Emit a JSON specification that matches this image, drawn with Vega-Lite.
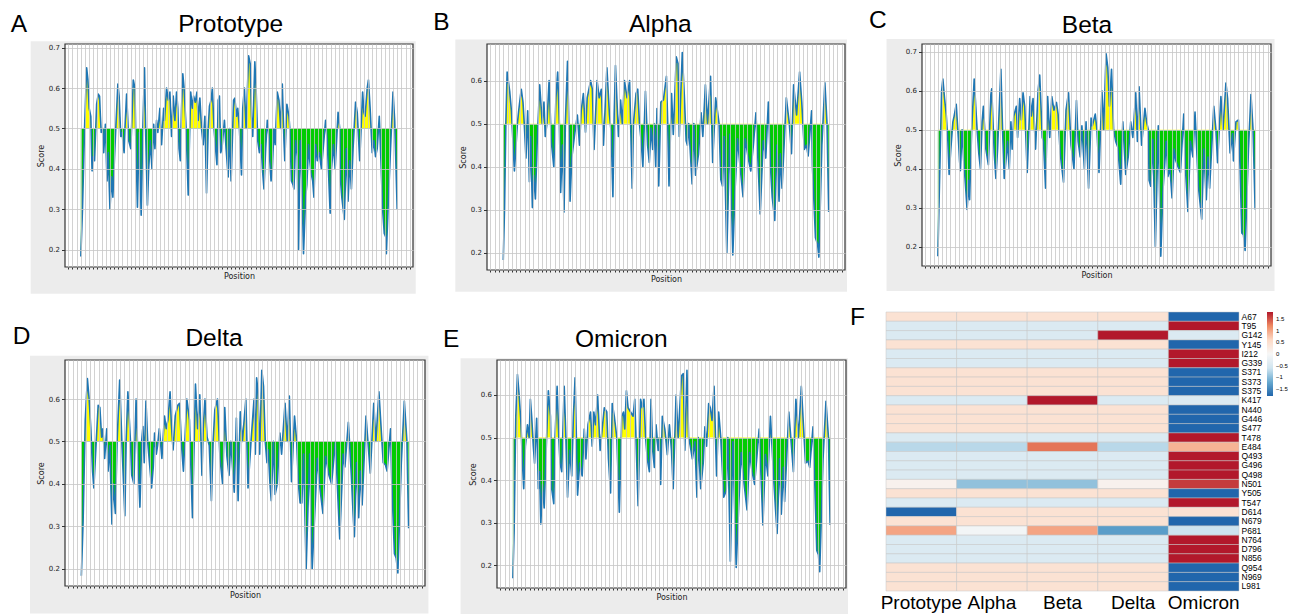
{
  "$schema": "https://vega.github.io/schema/vega-lite/v6.json",
  "background": "white",
  "padding": {"left": 10, "top": 8, "right": 0, "bottom": 0},
  "config": {
    "view": {"stroke": null},
    "font": "Liberation Sans",
    "title": {"font": "Liberation Sans", "fontSize": 24.5, "fontWeight": "normal", "color": "#000000", "anchor": "start", "frame": "group"},
    "text": {"font": "Liberation Sans", "fontSize": 24.5, "color": "#000000", "baseline": "top"},
    "axis": {"zindex": 1, "labelFont": "DejaVu Sans", "titleFont": "DejaVu Sans", "titleFontWeight": "normal", "labelColor": "#222222", "titleColor": "#222222", "tickColor": "#333333", "gridColor": "#c6c6c6", "gridWidth": 0.8}
  },
  "datasets": {
    "prototype": [
      {"p":0,"s":0.183},{"p":4,"s":0.30},{"p":9,"s":0.50},{"p":14,"s":0.65},{"p":17,"s":0.62},{"p":20,"s":0.55},{"p":24,"s":0.53},{"p":27,"s":0.395},{"p":30,"s":0.43},{"p":33,"s":0.42},{"p":38,"s":0.56},{"p":42,"s":0.585},{"p":45,"s":0.58},{"p":47,"s":0.53},{"p":49,"s":0.49},{"p":53,"s":0.50},{"p":55,"s":0.44},{"p":59,"s":0.51},{"p":63,"s":0.37},{"p":66,"s":0.44},{"p":70,"s":0.30},{"p":74,"s":0.38},{"p":77,"s":0.33},{"p":81,"s":0.43},{"p":84,"s":0.50},{"p":89,"s":0.61},{"p":92,"s":0.58},{"p":96,"s":0.48},{"p":99,"s":0.49},{"p":104,"s":0.44},{"p":106,"s":0.50},{"p":110,"s":0.585},{"p":115,"s":0.47},{"p":120,"s":0.45},{"p":123,"s":0.53},{"p":126,"s":0.62},{"p":130,"s":0.60},{"p":132,"s":0.48},{"p":136,"s":0.305},{"p":140,"s":0.49},{"p":145,"s":0.285},{"p":149,"s":0.50},{"p":153,"s":0.65},{"p":156,"s":0.48},{"p":160,"s":0.31},{"p":163,"s":0.40},{"p":167,"s":0.47},{"p":171,"s":0.40},{"p":175,"s":0.51},{"p":178,"s":0.45},{"p":182,"s":0.52},{"p":185,"s":0.49},{"p":190,"s":0.55},{"p":194,"s":0.46},{"p":199,"s":0.55},{"p":201,"s":0.52},{"p":206,"s":0.60},{"p":210,"s":0.57},{"p":214,"s":0.59},{"p":218,"s":0.48},{"p":222,"s":0.58},{"p":226,"s":0.52},{"p":230,"s":0.59},{"p":233,"s":0.55},{"p":236,"s":0.45},{"p":239,"s":0.42},{"p":242,"s":0.55},{"p":245,"s":0.635},{"p":248,"s":0.60},{"p":253,"s":0.50},{"p":258,"s":0.335},{"p":261,"s":0.47},{"p":264,"s":0.59},{"p":268,"s":0.55},{"p":271,"s":0.58},{"p":275,"s":0.565},{"p":279,"s":0.59},{"p":282,"s":0.52},{"p":286,"s":0.575},{"p":290,"s":0.50},{"p":294,"s":0.46},{"p":298,"s":0.53},{"p":302,"s":0.34},{"p":306,"s":0.50},{"p":309,"s":0.555},{"p":313,"s":0.57},{"p":316,"s":0.60},{"p":320,"s":0.50},{"p":323,"s":0.46},{"p":327,"s":0.41},{"p":330,"s":0.57},{"p":333,"s":0.58},{"p":336,"s":0.44},{"p":339,"s":0.45},{"p":345,"s":0.52},{"p":349,"s":0.45},{"p":354,"s":0.38},{"p":357,"s":0.50},{"p":361,"s":0.37},{"p":367,"s":0.57},{"p":370,"s":0.575},{"p":374,"s":0.53},{"p":377,"s":0.55},{"p":381,"s":0.50},{"p":386,"s":0.385},{"p":389,"s":0.55},{"p":393,"s":0.60},{"p":397,"s":0.50},{"p":403,"s":0.68},{"p":407,"s":0.66},{"p":410,"s":0.53},{"p":413,"s":0.48},{"p":418,"s":0.665},{"p":421,"s":0.60},{"p":425,"s":0.47},{"p":429,"s":0.44},{"p":433,"s":0.46},{"p":437,"s":0.39},{"p":440,"s":0.35},{"p":444,"s":0.45},{"p":448,"s":0.52},{"p":452,"s":0.48},{"p":454,"s":0.42},{"p":457,"s":0.37},{"p":460,"s":0.40},{"p":464,"s":0.50},{"p":467,"s":0.46},{"p":472,"s":0.59},{"p":476,"s":0.57},{"p":480,"s":0.50},{"p":484,"s":0.61},{"p":488,"s":0.47},{"p":490,"s":0.42},{"p":495,"s":0.56},{"p":500,"s":0.53},{"p":502,"s":0.50},{"p":506,"s":0.37},{"p":510,"s":0.36},{"p":512,"s":0.35},{"p":516,"s":0.47},{"p":520,"s":0.43},{"p":523,"s":0.20},{"p":527,"s":0.47},{"p":531,"s":0.37},{"p":535,"s":0.19},{"p":540,"s":0.33},{"p":543,"s":0.36},{"p":547,"s":0.46},{"p":550,"s":0.42},{"p":553,"s":0.39},{"p":557,"s":0.37},{"p":560,"s":0.33},{"p":564,"s":0.46},{"p":568,"s":0.42},{"p":573,"s":0.44},{"p":578,"s":0.40},{"p":583,"s":0.46},{"p":588,"s":0.52},{"p":592,"s":0.47},{"p":599,"s":0.29},{"p":602,"s":0.40},{"p":607,"s":0.46},{"p":611,"s":0.40},{"p":618,"s":0.54},{"p":622,"s":0.50},{"p":624,"s":0.37},{"p":627,"s":0.33},{"p":633,"s":0.275},{"p":638,"s":0.45},{"p":642,"s":0.32},{"p":646,"s":0.42},{"p":650,"s":0.35},{"p":654,"s":0.45},{"p":660,"s":0.565},{"p":664,"s":0.54},{"p":670,"s":0.42},{"p":677,"s":0.59},{"p":680,"s":0.54},{"p":683,"s":0.53},{"p":688,"s":0.60},{"p":691,"s":0.62},{"p":695,"s":0.55},{"p":700,"s":0.44},{"p":704,"s":0.47},{"p":708,"s":0.43},{"p":712,"s":0.45},{"p":717,"s":0.53},{"p":721,"s":0.42},{"p":725,"s":0.30},{"p":729,"s":0.24},{"p":733,"s":0.23},{"p":734,"s":0.19},{"p":738,"s":0.30},{"p":744,"s":0.45},{"p":750,"s":0.59},{"p":754,"s":0.52},{"p":760,"s":0.30}
    ],
    "alpha": [
      {"p":0,"s":0.183},{"p":3,"s":0.305},{"p":6,"s":0.50},{"p":9,"s":0.62},{"p":15,"s":0.575},{"p":19,"s":0.53},{"p":26,"s":0.39},{"p":33,"s":0.50},{"p":36,"s":0.53},{"p":42,"s":0.58},{"p":46,"s":0.55},{"p":49,"s":0.50},{"p":53,"s":0.42},{"p":57,"s":0.53},{"p":61,"s":0.365},{"p":64,"s":0.47},{"p":68,"s":0.305},{"p":71,"s":0.38},{"p":75,"s":0.325},{"p":79,"s":0.45},{"p":85,"s":0.59},{"p":91,"s":0.50},{"p":95,"s":0.55},{"p":98,"s":0.47},{"p":102,"s":0.50},{"p":107,"s":0.60},{"p":112,"s":0.46},{"p":118,"s":0.40},{"p":123,"s":0.56},{"p":127,"s":0.62},{"p":131,"s":0.50},{"p":134,"s":0.34},{"p":138,"s":0.45},{"p":142,"s":0.295},{"p":145,"s":0.50},{"p":150,"s":0.645},{"p":154,"s":0.46},{"p":156,"s":0.32},{"p":160,"s":0.42},{"p":166,"s":0.47},{"p":173,"s":0.52},{"p":178,"s":0.45},{"p":182,"s":0.53},{"p":187,"s":0.57},{"p":192,"s":0.48},{"p":196,"s":0.56},{"p":204,"s":0.60},{"p":208,"s":0.58},{"p":212,"s":0.44},{"p":219,"s":0.60},{"p":224,"s":0.56},{"p":229,"s":0.58},{"p":234,"s":0.45},{"p":242,"s":0.63},{"p":248,"s":0.52},{"p":252,"s":0.48},{"p":256,"s":0.33},{"p":259,"s":0.52},{"p":262,"s":0.635},{"p":269,"s":0.47},{"p":274,"s":0.555},{"p":278,"s":0.50},{"p":283,"s":0.60},{"p":289,"s":0.56},{"p":295,"s":0.60},{"p":301,"s":0.35},{"p":304,"s":0.50},{"p":310,"s":0.57},{"p":314,"s":0.58},{"p":318,"s":0.50},{"p":322,"s":0.46},{"p":326,"s":0.40},{"p":332,"s":0.575},{"p":337,"s":0.45},{"p":341,"s":0.41},{"p":345,"s":0.49},{"p":349,"s":0.44},{"p":352,"s":0.50},{"p":356,"s":0.40},{"p":359,"s":0.535},{"p":363,"s":0.355},{"p":368,"s":0.55},{"p":374,"s":0.555},{"p":381,"s":0.61},{"p":384,"s":0.50},{"p":387,"s":0.355},{"p":393,"s":0.57},{"p":397,"s":0.475},{"p":404,"s":0.655},{"p":408,"s":0.64},{"p":411,"s":0.47},{"p":418,"s":0.665},{"p":423,"s":0.56},{"p":427,"s":0.46},{"p":430,"s":0.45},{"p":433,"s":0.50},{"p":441,"s":0.36},{"p":445,"s":0.50},{"p":449,"s":0.38},{"p":456,"s":0.43},{"p":462,"s":0.525},{"p":466,"s":0.47},{"p":472,"s":0.59},{"p":477,"s":0.50},{"p":484,"s":0.61},{"p":489,"s":0.41},{"p":496,"s":0.56},{"p":500,"s":0.53},{"p":504,"s":0.50},{"p":508,"s":0.37},{"p":512,"s":0.355},{"p":516,"s":0.47},{"p":522,"s":0.20},{"p":529,"s":0.475},{"p":536,"s":0.195},{"p":541,"s":0.34},{"p":547,"s":0.465},{"p":553,"s":0.40},{"p":560,"s":0.33},{"p":565,"s":0.465},{"p":572,"s":0.42},{"p":578,"s":0.39},{"p":584,"s":0.45},{"p":590,"s":0.525},{"p":600,"s":0.29},{"p":607,"s":0.46},{"p":613,"s":0.42},{"p":619,"s":0.55},{"p":624,"s":0.40},{"p":628,"s":0.33},{"p":634,"s":0.275},{"p":639,"s":0.45},{"p":644,"s":0.32},{"p":647,"s":0.43},{"p":651,"s":0.35},{"p":661,"s":0.56},{"p":668,"s":0.50},{"p":673,"s":0.43},{"p":678,"s":0.59},{"p":685,"s":0.52},{"p":692,"s":0.62},{"p":697,"s":0.55},{"p":703,"s":0.44},{"p":708,"s":0.45},{"p":712,"s":0.425},{"p":720,"s":0.53},{"p":722,"s":0.40},{"p":729,"s":0.235},{"p":734,"s":0.22},{"p":737,"s":0.19},{"p":744,"s":0.45},{"p":751,"s":0.595},{"p":756,"s":0.50},{"p":760,"s":0.295}
    ],
    "beta": [
      {"p":0,"s":0.175},{"p":3,"s":0.32},{"p":9,"s":0.60},{"p":12,"s":0.63},{"p":16,"s":0.58},{"p":20,"s":0.54},{"p":24,"s":0.47},{"p":27,"s":0.385},{"p":31,"s":0.45},{"p":36,"s":0.52},{"p":39,"s":0.535},{"p":44,"s":0.565},{"p":49,"s":0.48},{"p":52,"s":0.42},{"p":54,"s":0.395},{"p":58,"s":0.50},{"p":62,"s":0.42},{"p":66,"s":0.36},{"p":70,"s":0.295},{"p":74,"s":0.37},{"p":76,"s":0.32},{"p":81,"s":0.50},{"p":87,"s":0.63},{"p":94,"s":0.50},{"p":98,"s":0.44},{"p":102,"s":0.40},{"p":106,"s":0.52},{"p":109,"s":0.56},{"p":115,"s":0.45},{"p":121,"s":0.41},{"p":127,"s":0.59},{"p":129,"s":0.605},{"p":135,"s":0.44},{"p":139,"s":0.375},{"p":143,"s":0.45},{"p":151,"s":0.655},{"p":155,"s":0.50},{"p":159,"s":0.375},{"p":163,"s":0.42},{"p":167,"s":0.47},{"p":171,"s":0.40},{"p":175,"s":0.52},{"p":178,"s":0.45},{"p":182,"s":0.535},{"p":188,"s":0.56},{"p":191,"s":0.48},{"p":196,"s":0.58},{"p":200,"s":0.525},{"p":204,"s":0.595},{"p":208,"s":0.56},{"p":214,"s":0.39},{"p":221,"s":0.585},{"p":224,"s":0.535},{"p":228,"s":0.58},{"p":234,"s":0.45},{"p":240,"s":0.60},{"p":244,"s":0.64},{"p":250,"s":0.48},{"p":253,"s":0.47},{"p":258,"s":0.35},{"p":263,"s":0.585},{"p":268,"s":0.48},{"p":273,"s":0.585},{"p":278,"s":0.55},{"p":284,"s":0.57},{"p":288,"s":0.54},{"p":293,"s":0.44},{"p":301,"s":0.365},{"p":307,"s":0.55},{"p":313,"s":0.595},{"p":319,"s":0.46},{"p":326,"s":0.40},{"p":332,"s":0.575},{"p":336,"s":0.47},{"p":341,"s":0.43},{"p":345,"s":0.51},{"p":351,"s":0.40},{"p":355,"s":0.52},{"p":361,"s":0.35},{"p":367,"s":0.53},{"p":370,"s":0.51},{"p":377,"s":0.54},{"p":381,"s":0.50},{"p":386,"s":0.39},{"p":393,"s":0.60},{"p":397,"s":0.50},{"p":403,"s":0.695},{"p":407,"s":0.66},{"p":411,"s":0.56},{"p":416,"s":0.655},{"p":421,"s":0.50},{"p":426,"s":0.47},{"p":431,"s":0.455},{"p":438,"s":0.36},{"p":443,"s":0.52},{"p":450,"s":0.385},{"p":456,"s":0.43},{"p":462,"s":0.52},{"p":467,"s":0.48},{"p":474,"s":0.595},{"p":478,"s":0.47},{"p":482,"s":0.61},{"p":488,"s":0.46},{"p":496,"s":0.555},{"p":500,"s":0.52},{"p":504,"s":0.50},{"p":506,"s":0.37},{"p":510,"s":0.355},{"p":515,"s":0.475},{"p":521,"s":0.20},{"p":528,"s":0.51},{"p":534,"s":0.175},{"p":539,"s":0.34},{"p":547,"s":0.47},{"p":551,"s":0.38},{"p":556,"s":0.40},{"p":561,"s":0.325},{"p":566,"s":0.45},{"p":570,"s":0.42},{"p":577,"s":0.40},{"p":581,"s":0.39},{"p":589,"s":0.54},{"p":593,"s":0.40},{"p":599,"s":0.29},{"p":605,"s":0.47},{"p":611,"s":0.43},{"p":616,"s":0.545},{"p":624,"s":0.355},{"p":632,"s":0.27},{"p":637,"s":0.45},{"p":643,"s":0.32},{"p":647,"s":0.43},{"p":651,"s":0.35},{"p":661,"s":0.56},{"p":666,"s":0.50},{"p":670,"s":0.415},{"p":678,"s":0.585},{"p":683,"s":0.50},{"p":690,"s":0.62},{"p":694,"s":0.58},{"p":700,"s":0.44},{"p":706,"s":0.49},{"p":708,"s":0.42},{"p":714,"s":0.52},{"p":720,"s":0.525},{"p":724,"s":0.40},{"p":728,"s":0.235},{"p":732,"s":0.23},{"p":736,"s":0.19},{"p":744,"s":0.45},{"p":750,"s":0.59},{"p":755,"s":0.50},{"p":760,"s":0.295}
    ],
    "delta": [
      {"p":0,"s":0.183},{"p":4,"s":0.31},{"p":9,"s":0.55},{"p":14,"s":0.648},{"p":18,"s":0.60},{"p":22,"s":0.53},{"p":26,"s":0.43},{"p":29,"s":0.39},{"p":33,"s":0.47},{"p":39,"s":0.585},{"p":43,"s":0.58},{"p":47,"s":0.51},{"p":50,"s":0.53},{"p":54,"s":0.46},{"p":59,"s":0.53},{"p":62,"s":0.43},{"p":66,"s":0.49},{"p":71,"s":0.305},{"p":74,"s":0.40},{"p":79,"s":0.33},{"p":83,"s":0.50},{"p":89,"s":0.645},{"p":94,"s":0.50},{"p":101,"s":0.325},{"p":104,"s":0.50},{"p":108,"s":0.617},{"p":114,"s":0.50},{"p":117,"s":0.42},{"p":122,"s":0.40},{"p":127,"s":0.60},{"p":131,"s":0.47},{"p":136,"s":0.345},{"p":140,"s":0.50},{"p":143,"s":0.535},{"p":146,"s":0.45},{"p":150,"s":0.595},{"p":154,"s":0.50},{"p":159,"s":0.44},{"p":163,"s":0.39},{"p":167,"s":0.44},{"p":170,"s":0.52},{"p":174,"s":0.47},{"p":177,"s":0.49},{"p":181,"s":0.53},{"p":187,"s":0.46},{"p":193,"s":0.56},{"p":197,"s":0.53},{"p":201,"s":0.55},{"p":206,"s":0.617},{"p":209,"s":0.54},{"p":213,"s":0.48},{"p":218,"s":0.56},{"p":224,"s":0.585},{"p":228,"s":0.59},{"p":232,"s":0.50},{"p":237,"s":0.43},{"p":245,"s":0.60},{"p":251,"s":0.55},{"p":258,"s":0.32},{"p":262,"s":0.50},{"p":265,"s":0.635},{"p":270,"s":0.53},{"p":275,"s":0.61},{"p":280,"s":0.42},{"p":283,"s":0.53},{"p":287,"s":0.60},{"p":292,"s":0.51},{"p":297,"s":0.49},{"p":302,"s":0.36},{"p":306,"s":0.50},{"p":310,"s":0.575},{"p":316,"s":0.60},{"p":322,"s":0.46},{"p":328,"s":0.40},{"p":333,"s":0.58},{"p":338,"s":0.465},{"p":343,"s":0.42},{"p":347,"s":0.50},{"p":355,"s":0.38},{"p":360,"s":0.555},{"p":364,"s":0.36},{"p":369,"s":0.57},{"p":374,"s":0.50},{"p":382,"s":0.60},{"p":387,"s":0.39},{"p":394,"s":0.50},{"p":401,"s":0.60},{"p":404,"s":0.47},{"p":407,"s":0.65},{"p":410,"s":0.62},{"p":414,"s":0.47},{"p":419,"s":0.668},{"p":423,"s":0.63},{"p":427,"s":0.50},{"p":431,"s":0.45},{"p":434,"s":0.48},{"p":438,"s":0.40},{"p":441,"s":0.36},{"p":446,"s":0.50},{"p":450,"s":0.375},{"p":455,"s":0.40},{"p":461,"s":0.52},{"p":465,"s":0.47},{"p":473,"s":0.59},{"p":478,"s":0.50},{"p":483,"s":0.607},{"p":488,"s":0.405},{"p":495,"s":0.56},{"p":500,"s":0.50},{"p":504,"s":0.40},{"p":508,"s":0.355},{"p":512,"s":0.355},{"p":516,"s":0.47},{"p":522,"s":0.20},{"p":530,"s":0.47},{"p":536,"s":0.20},{"p":542,"s":0.33},{"p":548,"s":0.46},{"p":554,"s":0.39},{"p":561,"s":0.33},{"p":567,"s":0.465},{"p":575,"s":0.42},{"p":581,"s":0.40},{"p":590,"s":0.50},{"p":600,"s":0.27},{"p":608,"s":0.47},{"p":612,"s":0.44},{"p":620,"s":0.545},{"p":627,"s":0.42},{"p":631,"s":0.33},{"p":634,"s":0.275},{"p":639,"s":0.45},{"p":644,"s":0.32},{"p":648,"s":0.43},{"p":652,"s":0.35},{"p":661,"s":0.56},{"p":671,"s":0.425},{"p":679,"s":0.59},{"p":684,"s":0.50},{"p":691,"s":0.617},{"p":701,"s":0.45},{"p":706,"s":0.445},{"p":710,"s":0.43},{"p":718,"s":0.53},{"p":721,"s":0.40},{"p":727,"s":0.235},{"p":731,"s":0.225},{"p":735,"s":0.19},{"p":743,"s":0.45},{"p":750,"s":0.595},{"p":756,"s":0.50},{"p":760,"s":0.295}
    ],
    "omicron": [
      {"p":0,"s":0.17},{"p":3,"s":0.28},{"p":7,"s":0.55},{"p":11,"s":0.648},{"p":15,"s":0.60},{"p":19,"s":0.54},{"p":23,"s":0.44},{"p":26,"s":0.38},{"p":30,"s":0.48},{"p":35,"s":0.53},{"p":39,"s":0.50},{"p":42,"s":0.59},{"p":45,"s":0.55},{"p":49,"s":0.48},{"p":52,"s":0.44},{"p":57,"s":0.545},{"p":61,"s":0.38},{"p":64,"s":0.42},{"p":67,"s":0.297},{"p":71,"s":0.39},{"p":75,"s":0.335},{"p":79,"s":0.45},{"p":85,"s":0.61},{"p":90,"s":0.55},{"p":93,"s":0.38},{"p":98,"s":0.345},{"p":101,"s":0.50},{"p":106,"s":0.62},{"p":110,"s":0.50},{"p":113,"s":0.44},{"p":117,"s":0.42},{"p":123,"s":0.62},{"p":127,"s":0.50},{"p":131,"s":0.36},{"p":136,"s":0.47},{"p":141,"s":0.41},{"p":145,"s":0.55},{"p":149,"s":0.64},{"p":153,"s":0.46},{"p":155,"s":0.365},{"p":160,"s":0.44},{"p":166,"s":0.41},{"p":171,"s":0.52},{"p":175,"s":0.45},{"p":180,"s":0.53},{"p":186,"s":0.56},{"p":190,"s":0.48},{"p":194,"s":0.56},{"p":198,"s":0.53},{"p":203,"s":0.60},{"p":209,"s":0.47},{"p":214,"s":0.52},{"p":219,"s":0.57},{"p":225,"s":0.56},{"p":229,"s":0.45},{"p":234,"s":0.37},{"p":238,"s":0.58},{"p":243,"s":0.55},{"p":249,"s":0.50},{"p":255,"s":0.325},{"p":261,"s":0.55},{"p":265,"s":0.56},{"p":268,"s":0.52},{"p":272,"s":0.61},{"p":276,"s":0.57},{"p":282,"s":0.56},{"p":288,"s":0.55},{"p":292,"s":0.59},{"p":300,"s":0.34},{"p":306,"s":0.59},{"p":310,"s":0.57},{"p":314,"s":0.59},{"p":318,"s":0.50},{"p":322,"s":0.45},{"p":327,"s":0.42},{"p":331,"s":0.59},{"p":335,"s":0.47},{"p":339,"s":0.43},{"p":343,"s":0.53},{"p":348,"s":0.47},{"p":351,"s":0.50},{"p":354,"s":0.39},{"p":358,"s":0.55},{"p":364,"s":0.52},{"p":370,"s":0.46},{"p":375,"s":0.53},{"p":380,"s":0.47},{"p":384,"s":0.38},{"p":391,"s":0.60},{"p":396,"s":0.50},{"p":404,"s":0.645},{"p":408,"s":0.65},{"p":412,"s":0.47},{"p":417,"s":0.658},{"p":421,"s":0.50},{"p":425,"s":0.48},{"p":430,"s":0.45},{"p":436,"s":0.49},{"p":441,"s":0.36},{"p":444,"s":0.50},{"p":450,"s":0.38},{"p":456,"s":0.44},{"p":460,"s":0.525},{"p":464,"s":0.48},{"p":469,"s":0.58},{"p":473,"s":0.57},{"p":477,"s":0.54},{"p":482,"s":0.62},{"p":488,"s":0.41},{"p":493,"s":0.56},{"p":498,"s":0.50},{"p":505,"s":0.36},{"p":511,"s":0.375},{"p":515,"s":0.50},{"p":521,"s":0.21},{"p":527,"s":0.49},{"p":535,"s":0.195},{"p":541,"s":0.34},{"p":547,"s":0.465},{"p":554,"s":0.39},{"p":561,"s":0.33},{"p":567,"s":0.465},{"p":573,"s":0.42},{"p":579,"s":0.39},{"p":590,"s":0.52},{"p":599,"s":0.295},{"p":605,"s":0.46},{"p":611,"s":0.41},{"p":617,"s":0.55},{"p":625,"s":0.40},{"p":629,"s":0.335},{"p":633,"s":0.275},{"p":639,"s":0.45},{"p":643,"s":0.32},{"p":648,"s":0.43},{"p":651,"s":0.35},{"p":661,"s":0.56},{"p":672,"s":0.42},{"p":678,"s":0.59},{"p":684,"s":0.50},{"p":691,"s":0.62},{"p":701,"s":0.44},{"p":707,"s":0.445},{"p":711,"s":0.43},{"p":719,"s":0.525},{"p":723,"s":0.40},{"p":728,"s":0.235},{"p":732,"s":0.225},{"p":735,"s":0.185},{"p":743,"s":0.45},{"p":750,"s":0.585},{"p":756,"s":0.50},{"p":760,"s":0.295}
    ],
    "heat": [
      {"site":"A67","variant":"Prototype","z":0.447},{"site":"A67","variant":"Alpha","z":0.447},{"site":"A67","variant":"Beta","z":0.447},{"site":"A67","variant":"Delta","z":0.447},{"site":"A67","variant":"Omicron","z":-1.789},
      {"site":"T95","variant":"Prototype","z":-0.447},{"site":"T95","variant":"Alpha","z":-0.447},{"site":"T95","variant":"Beta","z":-0.447},{"site":"T95","variant":"Delta","z":-0.447},{"site":"T95","variant":"Omicron","z":1.789},
      {"site":"G142","variant":"Prototype","z":-0.447},{"site":"G142","variant":"Alpha","z":-0.447},{"site":"G142","variant":"Beta","z":-0.447},{"site":"G142","variant":"Delta","z":1.789},{"site":"G142","variant":"Omicron","z":-0.447},
      {"site":"Y145","variant":"Prototype","z":0.447},{"site":"Y145","variant":"Alpha","z":0.447},{"site":"Y145","variant":"Beta","z":0.447},{"site":"Y145","variant":"Delta","z":0.447},{"site":"Y145","variant":"Omicron","z":-1.789},
      {"site":"I212","variant":"Prototype","z":-0.447},{"site":"I212","variant":"Alpha","z":-0.447},{"site":"I212","variant":"Beta","z":-0.447},{"site":"I212","variant":"Delta","z":-0.447},{"site":"I212","variant":"Omicron","z":1.789},
      {"site":"G339","variant":"Prototype","z":-0.447},{"site":"G339","variant":"Alpha","z":-0.447},{"site":"G339","variant":"Beta","z":-0.447},{"site":"G339","variant":"Delta","z":-0.447},{"site":"G339","variant":"Omicron","z":1.789},
      {"site":"S371","variant":"Prototype","z":0.447},{"site":"S371","variant":"Alpha","z":0.447},{"site":"S371","variant":"Beta","z":0.447},{"site":"S371","variant":"Delta","z":0.447},{"site":"S371","variant":"Omicron","z":-1.789},
      {"site":"S373","variant":"Prototype","z":0.447},{"site":"S373","variant":"Alpha","z":0.447},{"site":"S373","variant":"Beta","z":0.447},{"site":"S373","variant":"Delta","z":0.447},{"site":"S373","variant":"Omicron","z":-1.789},
      {"site":"S375","variant":"Prototype","z":0.447},{"site":"S375","variant":"Alpha","z":0.447},{"site":"S375","variant":"Beta","z":0.447},{"site":"S375","variant":"Delta","z":0.447},{"site":"S375","variant":"Omicron","z":-1.789},
      {"site":"K417","variant":"Prototype","z":-0.447},{"site":"K417","variant":"Alpha","z":-0.447},{"site":"K417","variant":"Beta","z":1.789},{"site":"K417","variant":"Delta","z":-0.447},{"site":"K417","variant":"Omicron","z":-0.447},
      {"site":"N440","variant":"Prototype","z":0.447},{"site":"N440","variant":"Alpha","z":0.447},{"site":"N440","variant":"Beta","z":0.447},{"site":"N440","variant":"Delta","z":0.447},{"site":"N440","variant":"Omicron","z":-1.789},
      {"site":"G446","variant":"Prototype","z":0.447},{"site":"G446","variant":"Alpha","z":0.447},{"site":"G446","variant":"Beta","z":0.447},{"site":"G446","variant":"Delta","z":0.447},{"site":"G446","variant":"Omicron","z":-1.789},
      {"site":"S477","variant":"Prototype","z":0.447},{"site":"S477","variant":"Alpha","z":0.447},{"site":"S477","variant":"Beta","z":0.447},{"site":"S477","variant":"Delta","z":0.447},{"site":"S477","variant":"Omicron","z":-1.789},
      {"site":"T478","variant":"Prototype","z":-0.447},{"site":"T478","variant":"Alpha","z":-0.447},{"site":"T478","variant":"Beta","z":-0.447},{"site":"T478","variant":"Delta","z":-0.447},{"site":"T478","variant":"Omicron","z":1.789},
      {"site":"E484","variant":"Prototype","z":-0.73},{"site":"E484","variant":"Alpha","z":-0.73},{"site":"E484","variant":"Beta","z":1.3},{"site":"E484","variant":"Delta","z":-0.73},{"site":"E484","variant":"Omicron","z":0.89},
      {"site":"Q493","variant":"Prototype","z":-0.447},{"site":"Q493","variant":"Alpha","z":-0.447},{"site":"Q493","variant":"Beta","z":-0.447},{"site":"Q493","variant":"Delta","z":-0.447},{"site":"Q493","variant":"Omicron","z":1.789},
      {"site":"G496","variant":"Prototype","z":-0.447},{"site":"G496","variant":"Alpha","z":-0.447},{"site":"G496","variant":"Beta","z":-0.447},{"site":"G496","variant":"Delta","z":-0.447},{"site":"G496","variant":"Omicron","z":1.789},
      {"site":"Q498","variant":"Prototype","z":-0.447},{"site":"Q498","variant":"Alpha","z":-0.447},{"site":"Q498","variant":"Beta","z":-0.447},{"site":"Q498","variant":"Delta","z":-0.447},{"site":"Q498","variant":"Omicron","z":1.789},
      {"site":"N501","variant":"Prototype","z":0.12},{"site":"N501","variant":"Alpha","z":-0.95},{"site":"N501","variant":"Beta","z":-0.95},{"site":"N501","variant":"Delta","z":0.12},{"site":"N501","variant":"Omicron","z":1.6},
      {"site":"Y505","variant":"Prototype","z":0.447},{"site":"Y505","variant":"Alpha","z":0.447},{"site":"Y505","variant":"Beta","z":0.447},{"site":"Y505","variant":"Delta","z":0.447},{"site":"Y505","variant":"Omicron","z":-1.789},
      {"site":"T547","variant":"Prototype","z":-0.447},{"site":"T547","variant":"Alpha","z":-0.447},{"site":"T547","variant":"Beta","z":-0.447},{"site":"T547","variant":"Delta","z":-0.447},{"site":"T547","variant":"Omicron","z":1.789},
      {"site":"D614","variant":"Prototype","z":-1.789},{"site":"D614","variant":"Alpha","z":0.447},{"site":"D614","variant":"Beta","z":0.447},{"site":"D614","variant":"Delta","z":0.447},{"site":"D614","variant":"Omicron","z":0.447},
      {"site":"N679","variant":"Prototype","z":0.447},{"site":"N679","variant":"Alpha","z":0.447},{"site":"N679","variant":"Beta","z":0.447},{"site":"N679","variant":"Delta","z":0.447},{"site":"N679","variant":"Omicron","z":-1.789},
      {"site":"P681","variant":"Prototype","z":1.0},{"site":"P681","variant":"Alpha","z":-0.08},{"site":"P681","variant":"Beta","z":1.0},{"site":"P681","variant":"Delta","z":-1.3},{"site":"P681","variant":"Omicron","z":-0.62},
      {"site":"N764","variant":"Prototype","z":-0.447},{"site":"N764","variant":"Alpha","z":-0.447},{"site":"N764","variant":"Beta","z":-0.447},{"site":"N764","variant":"Delta","z":-0.447},{"site":"N764","variant":"Omicron","z":1.789},
      {"site":"D796","variant":"Prototype","z":-0.447},{"site":"D796","variant":"Alpha","z":-0.447},{"site":"D796","variant":"Beta","z":-0.447},{"site":"D796","variant":"Delta","z":-0.447},{"site":"D796","variant":"Omicron","z":1.789},
      {"site":"N856","variant":"Prototype","z":-0.447},{"site":"N856","variant":"Alpha","z":-0.447},{"site":"N856","variant":"Beta","z":-0.447},{"site":"N856","variant":"Delta","z":-0.447},{"site":"N856","variant":"Omicron","z":1.789},
      {"site":"Q954","variant":"Prototype","z":0.447},{"site":"Q954","variant":"Alpha","z":0.447},{"site":"Q954","variant":"Beta","z":0.447},{"site":"Q954","variant":"Delta","z":0.447},{"site":"Q954","variant":"Omicron","z":-1.789},
      {"site":"N969","variant":"Prototype","z":0.447},{"site":"N969","variant":"Alpha","z":0.447},{"site":"N969","variant":"Beta","z":0.447},{"site":"N969","variant":"Delta","z":0.447},{"site":"N969","variant":"Omicron","z":-1.789},
      {"site":"L981","variant":"Prototype","z":0.447},{"site":"L981","variant":"Alpha","z":0.447},{"site":"L981","variant":"Beta","z":0.447},{"site":"L981","variant":"Delta","z":0.447},{"site":"L981","variant":"Omicron","z":-1.789}
    ]
  },
  "spacing": 1,
  "resolve": {"legend": {"color": "independent"}},
  "hconcat": [
    {
      "spacing": 29,
      "vconcat": [
        {
          "spacing": 17,
          "hconcat": [
            {
              "width": 348, "height": 223,
              "layer": [
                {"data": {"values": [{}]}, "mark": {"type": "rect", "fill": "#ececec"},
                 "encoding": {"x": {"datum": -120.4, "type": "quantitative", "scale": {"domain": [-38, 798], "nice": false, "zero": false}}, "x2": {"datum": 804.5},
                              "y": {"datum": 0.7157, "type": "quantitative", "scale": {"domain": [0.157, 0.709], "nice": false, "zero": false}}, "y2": {"datum": 0.0909}}},
                {"data": {"values": [{}]}, "mark": {"type": "rect", "fill": "white", "stroke": "#333333", "strokeWidth": 1.2},
                 "encoding": {"x": {"datum": -38, "type": "quantitative"}, "x2": {"datum": 798}, "y": {"datum": 0.709, "type": "quantitative"}, "y2": {"datum": 0.157}}},
                {"data": {"name": "prototype"},
                 "mark": {"type": "area", "strokeWidth": 0, "fill": {"gradient": "linear", "x1": 0, "y1": 0, "x2": 0, "y2": 1, "stops": [{"offset": 0, "color": "#ffff00"}, {"offset": 0.3622, "color": "#ffff00"}, {"offset": 0.3622, "color": "#00cc00"}, {"offset": 1, "color": "#00cc00"}]}},
                 "encoding": {"x": {"field": "p", "type": "quantitative", "axis": {"zindex": 1, "title": "Position", "titleFontSize": 8, "titlePadding": 3, "labels": false, "tickSize": 2, "tickCount": 84, "grid": true, "domain": false}},
                              "y": {"field": "s", "type": "quantitative", "axis": {"zindex": 1, "title": "Score", "titleFontSize": 8, "titlePadding": 3, "labelFontSize": 7, "tickCount": 6, "format": ".1f", "tickSize": 3.5, "labelPadding": 2, "grid": true, "domain": false}},
                              "y2": {"datum": 0.5}}},
                {"data": {"name": "prototype"}, "mark": {"type": "line", "color": "#1f77b4", "strokeWidth": 1.6, "strokeJoin": "round"},
                 "encoding": {"x": {"field": "p", "type": "quantitative"}, "y": {"field": "s", "type": "quantitative"}}},
                {"data": {"values": [{"label": "A"}]}, "mark": {"type": "text", "align": "left"},
                 "encoding": {"x": {"datum": -168.4, "type": "quantitative"}, "y": {"datum": 0.7865, "type": "quantitative"}, "text": {"field": "label"}}},
                {"data": {"values": [{"label": "Prototype"}]}, "mark": {"type": "text", "align": "center"},
                 "encoding": {"x": {"datum": 360.1, "type": "quantitative"}, "y": {"datum": 0.7865, "type": "quantitative"}, "text": {"field": "label"}}}
              ]
            },
            {
              "width": 358, "height": 226,
              "layer": [
                {"data": {"values": [{}]}, "mark": {"type": "rect", "fill": "#ececec"},
                 "encoding": {"x": {"datum": -112, "type": "quantitative", "scale": {"domain": [-38, 798], "nice": false, "zero": false}}, "x2": {"datum": 802.7},
                              "y": {"datum": 0.6952, "type": "quantitative", "scale": {"domain": [0.160, 0.685], "nice": false, "zero": false}}, "y2": {"datum": 0.1096}}},
                {"data": {"values": [{}]}, "mark": {"type": "rect", "fill": "white", "stroke": "#333333", "strokeWidth": 1.2},
                 "encoding": {"x": {"datum": -38, "type": "quantitative"}, "x2": {"datum": 798}, "y": {"datum": 0.685, "type": "quantitative"}, "y2": {"datum": 0.160}}},
                {"data": {"name": "alpha"},
                 "mark": {"type": "area", "strokeWidth": 0, "fill": {"gradient": "linear", "x1": 0, "y1": 0, "x2": 0, "y2": 1, "stops": [{"offset": 0, "color": "#ffff00"}, {"offset": 0.3423, "color": "#ffff00"}, {"offset": 0.3423, "color": "#00cc00"}, {"offset": 1, "color": "#00cc00"}]}},
                 "encoding": {"x": {"field": "p", "type": "quantitative", "axis": {"zindex": 1, "title": "Position", "titleFontSize": 8, "titlePadding": 3, "labels": false, "tickSize": 2, "tickCount": 84, "grid": true, "domain": false}},
                              "y": {"field": "s", "type": "quantitative", "axis": {"zindex": 1, "title": "Score", "titleFontSize": 8, "titlePadding": 3, "labelFontSize": 7, "tickCount": 6, "format": ".1f", "tickSize": 3.5, "labelPadding": 2, "grid": true, "domain": false}},
                              "y2": {"datum": 0.5}}},
                {"data": {"name": "alpha"}, "mark": {"type": "line", "color": "#1f77b4", "strokeWidth": 1.6, "strokeJoin": "round"},
                 "encoding": {"x": {"field": "p", "type": "quantitative"}, "y": {"field": "s", "type": "quantitative"}}},
                {"data": {"values": [{"label": "B"}]}, "mark": {"type": "text", "align": "left"},
                 "encoding": {"x": {"datum": -163.4, "type": "quantitative"}, "y": {"datum": 0.7614, "type": "quantitative"}, "text": {"field": "label"}}},
                {"data": {"values": [{"label": "Alpha"}]}, "mark": {"type": "text", "align": "center"},
                 "encoding": {"x": {"datum": 366.7, "type": "quantitative"}, "y": {"datum": 0.7577, "type": "quantitative"}, "text": {"field": "label"}}}
              ]
            }
          ]
        },
        {
          "spacing": 13,
          "hconcat": [
            {
              "width": 360, "height": 226,
              "layer": [
                {"data": {"values": [{}]}, "mark": {"type": "rect", "fill": "#ececec"},
                 "encoding": {"x": {"datum": -119.3, "type": "quantitative", "scale": {"domain": [-38, 798], "nice": false, "zero": false}}, "x2": {"datum": 805.9},
                              "y": {"datum": 0.7021, "type": "quantitative", "scale": {"domain": [0.159, 0.692], "nice": false, "zero": false}}, "y2": {"datum": 0.0939}}},
                {"data": {"values": [{}]}, "mark": {"type": "rect", "fill": "white", "stroke": "#333333", "strokeWidth": 1.2},
                 "encoding": {"x": {"datum": -38, "type": "quantitative"}, "x2": {"datum": 798}, "y": {"datum": 0.692, "type": "quantitative"}, "y2": {"datum": 0.159}}},
                {"data": {"name": "delta"},
                 "mark": {"type": "area", "strokeWidth": 0, "fill": {"gradient": "linear", "x1": 0, "y1": 0, "x2": 0, "y2": 1, "stops": [{"offset": 0, "color": "#ffff00"}, {"offset": 0.3464, "color": "#ffff00"}, {"offset": 0.3464, "color": "#00cc00"}, {"offset": 1, "color": "#00cc00"}]}},
                 "encoding": {"x": {"field": "p", "type": "quantitative", "axis": {"zindex": 1, "title": "Position", "titleFontSize": 8, "titlePadding": 3, "labels": false, "tickSize": 2, "tickCount": 84, "grid": true, "domain": false}},
                              "y": {"field": "s", "type": "quantitative", "axis": {"zindex": 1, "title": "Score", "titleFontSize": 8, "titlePadding": 3, "labelFontSize": 7, "tickCount": 6, "format": ".1f", "tickSize": 3.5, "labelPadding": 2, "grid": true, "domain": false}},
                              "y2": {"datum": 0.5}}},
                {"data": {"name": "delta"}, "mark": {"type": "line", "color": "#1f77b4", "strokeWidth": 1.6, "strokeJoin": "round"},
                 "encoding": {"x": {"field": "p", "type": "quantitative"}, "y": {"field": "s", "type": "quantitative"}}},
                {"data": {"values": [{"label": "D"}]}, "mark": {"type": "text", "align": "left"},
                 "encoding": {"x": {"datum": -159.5, "type": "quantitative"}, "y": {"datum": 0.7748, "type": "quantitative"}, "text": {"field": "label"}}},
                {"data": {"values": [{"label": "Delta"}]}, "mark": {"type": "text", "align": "center"},
                 "encoding": {"x": {"datum": 308, "type": "quantitative"}, "y": {"datum": 0.7708, "type": "quantitative"}, "text": {"field": "label"}}}
              ]
            },
            {
              "width": 349, "height": 228,
              "layer": [
                {"data": {"values": [{}]}, "mark": {"type": "rect", "fill": "#ececec"},
                 "encoding": {"x": {"datum": -125.2, "type": "quantitative", "scale": {"domain": [-38, 798], "nice": false, "zero": false}}, "x2": {"datum": 802.8},
                              "y": {"datum": 0.686, "type": "quantitative", "scale": {"domain": [0.147, 0.682], "nice": false, "zero": false}}, "y2": {"datum": 0.086}}},
                {"data": {"values": [{}]}, "mark": {"type": "rect", "fill": "white", "stroke": "#333333", "strokeWidth": 1.2},
                 "encoding": {"x": {"datum": -38, "type": "quantitative"}, "x2": {"datum": 798}, "y": {"datum": 0.682, "type": "quantitative"}, "y2": {"datum": 0.147}}},
                {"data": {"name": "omicron"},
                 "mark": {"type": "area", "strokeWidth": 0, "fill": {"gradient": "linear", "x1": 0, "y1": 0, "x2": 0, "y2": 1, "stops": [{"offset": 0, "color": "#ffff00"}, {"offset": 0.3238, "color": "#ffff00"}, {"offset": 0.3238, "color": "#00cc00"}, {"offset": 1, "color": "#00cc00"}]}},
                 "encoding": {"x": {"field": "p", "type": "quantitative", "axis": {"zindex": 1, "title": "Position", "titleFontSize": 8, "titlePadding": 3, "labels": false, "tickSize": 2, "tickCount": 84, "grid": true, "domain": false}},
                              "y": {"field": "s", "type": "quantitative", "axis": {"zindex": 1, "title": "Score", "titleFontSize": 8, "titlePadding": 3, "labelFontSize": 7, "tickCount": 6, "format": ".1f", "tickSize": 3.5, "labelPadding": 2, "grid": true, "domain": false}},
                              "y2": {"datum": 0.5}}},
                {"data": {"name": "omicron"}, "mark": {"type": "line", "color": "#1f77b4", "strokeWidth": 1.6, "strokeJoin": "round"},
                 "encoding": {"x": {"field": "p", "type": "quantitative"}, "y": {"field": "s", "type": "quantitative"}}},
                {"data": {"values": [{"label": "E"}]}, "mark": {"type": "text", "align": "left"},
                 "encoding": {"x": {"datum": -167.4, "type": "quantitative"}, "y": {"datum": 0.7566, "type": "quantitative"}, "text": {"field": "label"}}},
                {"data": {"values": [{"label": "Omicron"}]}, "mark": {"type": "text", "align": "center"},
                 "encoding": {"x": {"datum": 259.8, "type": "quantitative"}, "y": {"datum": 0.7566, "type": "quantitative"}, "text": {"field": "label"}}}
              ]
            }
          ]
        }
      ]
    },
    {
      "spacing": 13,
      "resolve": {"legend": {"color": "independent"}},
      "vconcat": [
        {
          "width": 349, "height": 222,
          "layer": [
            {"data": {"values": [{}]}, "mark": {"type": "rect", "fill": "#ececec"},
             "encoding": {"x": {"datum": -123, "type": "quantitative", "scale": {"domain": [-38, 798], "nice": false, "zero": false}}, "x2": {"datum": 806.4},
                          "y": {"datum": 0.7328, "type": "quantitative", "scale": {"domain": [0.150, 0.720], "nice": false, "zero": false}}, "y2": {"datum": 0.0858}}},
            {"data": {"values": [{}]}, "mark": {"type": "rect", "fill": "white", "stroke": "#333333", "strokeWidth": 1.2},
             "encoding": {"x": {"datum": -38, "type": "quantitative"}, "x2": {"datum": 798}, "y": {"datum": 0.720, "type": "quantitative"}, "y2": {"datum": 0.150}}},
            {"data": {"name": "beta"},
             "mark": {"type": "area", "strokeWidth": 0, "fill": {"gradient": "linear", "x1": 0, "y1": 0, "x2": 0, "y2": 1, "stops": [{"offset": 0, "color": "#ffff00"}, {"offset": 0.375, "color": "#ffff00"}, {"offset": 0.375, "color": "#00cc00"}, {"offset": 1, "color": "#00cc00"}]}},
             "encoding": {"x": {"field": "p", "type": "quantitative", "axis": {"zindex": 1, "title": "Position", "titleFontSize": 8, "titlePadding": 3, "labels": false, "tickSize": 2, "tickCount": 84, "grid": true, "domain": false}},
                          "y": {"field": "s", "type": "quantitative", "axis": {"zindex": 1, "title": "Score", "titleFontSize": 8, "titlePadding": 3, "labelFontSize": 7, "tickCount": 6, "format": ".1f", "tickSize": 3.5, "labelPadding": 2, "grid": true, "domain": false}},
                          "y2": {"datum": 0.5}}},
            {"data": {"name": "beta"}, "mark": {"type": "line", "color": "#1f77b4", "strokeWidth": 1.6, "strokeJoin": "round"},
             "encoding": {"x": {"field": "p", "type": "quantitative"}, "y": {"field": "s", "type": "quantitative"}}},
            {"data": {"values": [{"label": "C"}]}, "mark": {"type": "text", "align": "left"},
             "encoding": {"x": {"datum": -165, "type": "quantitative"}, "y": {"datum": 0.8088, "type": "quantitative"}, "text": {"field": "label"}}},
            {"data": {"values": [{"label": "Beta"}]}, "mark": {"type": "text", "align": "center"},
             "encoding": {"x": {"datum": 357.3, "type": "quantitative"}, "y": {"datum": 0.7960, "type": "quantitative"}, "text": {"field": "label"}}}
          ]
        },
        {
          "width": 317, "height": 279,
          "title": {"text": "F", "anchor": "start", "dx": -72, "offset": -19},
          "data": {"name": "heat"},
          "mark": {"type": "rect", "stroke": "#c4c4c4", "strokeWidth": 0.5},
          "encoding": {
            "x": {"field": "variant", "type": "nominal", "sort": ["Prototype", "Alpha", "Beta", "Delta", "Omicron"], "scale": {"range": [-36, 317], "paddingInner": 0, "paddingOuter": 0},
                  "axis": {"orient": "bottom", "title": null, "labelAngle": 0, "labelFont": "Liberation Sans", "labelFontSize": 19, "labelColor": "#000000", "ticks": false, "tickSize": 0, "domain": false, "grid": false, "labelPadding": 2}},
            "y": {"field": "site", "type": "nominal", "sort": ["A67","T95","G142","Y145","I212","G339","S371","S373","S375","K417","N440","G446","S477","T478","E484","Q493","G496","Q498","N501","Y505","T547","D614","N679","P681","N764","D796","N856","Q954","N969","L981"], "scale": {"paddingInner": 0, "paddingOuter": 0},
                  "axis": {"orient": "right", "title": null, "labelFont": "Liberation Sans", "labelFontSize": 8.5, "labelColor": "#000000", "ticks": false, "tickSize": 0, "domain": false, "grid": false, "labelPadding": 2}},
            "color": {"field": "z", "type": "quantitative",
                      "scale": {"domain": [-1.789, -1.1927, -0.5963, 0, 0.5963, 1.1927, 1.789], "range": ["#2166ac", "#67a9cf", "#d1e5f0", "#f7f7f7", "#fddbc7", "#ef8a62", "#b2182b"], "interpolate": "rgb"},
                      "legend": {"title": null, "orient": "right", "offset": 5, "padding": 0, "gradientLength": 84, "gradientThickness": 6, "gradientStrokeWidth": 0, "labelFontSize": 6, "labelFont": "Liberation Sans", "labelColor": "#000000", "labelOffset": 3, "labelOverlap": false, "values": [1.5, 1, 0.5, 0, -0.5, -1, -1.5], "format": ".1~f"}}
          }
        }
      ]
    }
  ]
}
